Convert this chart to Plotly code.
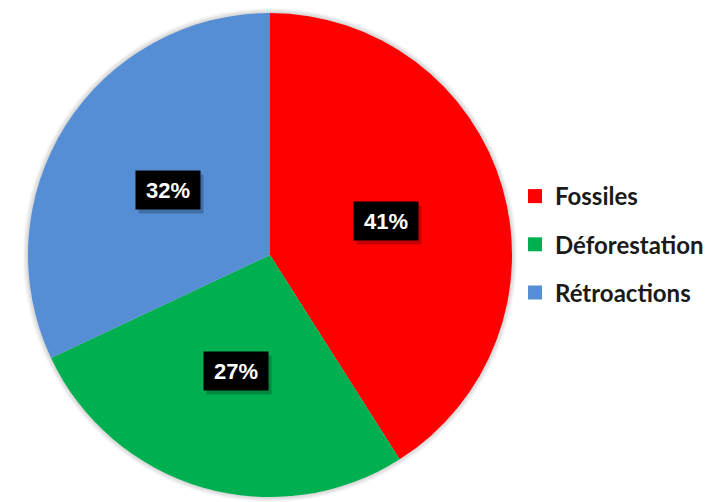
import math
import plotly.graph_objects as go

categories = ["Fossiles", "Déforestation", "Rétroactions"]
values = [41, 27, 32]
colors = ["#FF0000", "#00B050", "#558ED5"]

W, H = 717, 502
cx_px, cy_px, R = 262, 247, 242   # page has an 8px body margin
def dom(r):
    return dict(x=[max(0, (cx_px - r) / W), min(1, (cx_px + r) / W)],
                y=[max(0, (H - cy_px - r) / H), min(1, (H - cy_px + r) / H)])

fig = go.Figure()
# soft shadow rings
for extra in [5, 4, 3, 2, 1]:
    fig.add_trace(go.Pie(values=[1], marker=dict(colors=["rgba(0,0,0,0.03)"], line=dict(width=0)),
                         domain=dom(R + extra), textinfo="none", hoverinfo="skip",
                         showlegend=False, sort=False))
fig.add_trace(go.Pie(
    labels=categories, values=values, sort=False, direction="clockwise", rotation=0,
    marker=dict(colors=colors, line=dict(color="white", width=0)),
    textinfo="none", domain=dom(R), showlegend=False,
))

# legend via dummy traces
for c, col in zip(categories, colors):
    fig.add_trace(go.Scatter(x=[None], y=[None], mode="markers", name=c, legendgroup=c,
                             marker=dict(symbol="square", size=14, color=col)))

# percent labels
total = sum(values)
cum = 0
for v in values:
    mid = (cum + v / 2) / total * 2 * math.pi
    cum += v
    px = cx_px + 0.5 * R * math.sin(mid)
    py = cy_px - 0.5 * R * math.cos(mid)
    txt = f"{round(v / total * 100)}%"
    fig.add_annotation(x=(px + 3) / W, y=(H - py - 4) / H, xref="paper", yref="paper",
                       xanchor="center", yanchor="middle",
                       text=" ", showarrow=False, width=62, height=36,
                       bgcolor="rgba(0,0,0,0.22)")
    fig.add_annotation(x=px / W, y=(H - py) / H, xref="paper", yref="paper",
                       xanchor="center", yanchor="middle",
                       text=f"<b>{txt}</b>", showarrow=False, width=62, height=36,
                       bgcolor="black", font=dict(color="white", size=22, family="Arial"))

fig.update_layout(
    width=W, height=H, margin=dict(l=0, r=0, t=0, b=0),
    paper_bgcolor="white", plot_bgcolor="white",
    xaxis=dict(visible=False), yaxis=dict(visible=False),
    legend=dict(x=507 / W, y=1 - 166 / H, xanchor="left", yanchor="top", tracegroupgap=14,
                font=dict(size=24, family="Lato", color="#1a1a1a", weight="bold"),
                itemwidth=30, bgcolor="rgba(0,0,0,0)"),
    showlegend=True,
)
fig.write_html("out.html")
